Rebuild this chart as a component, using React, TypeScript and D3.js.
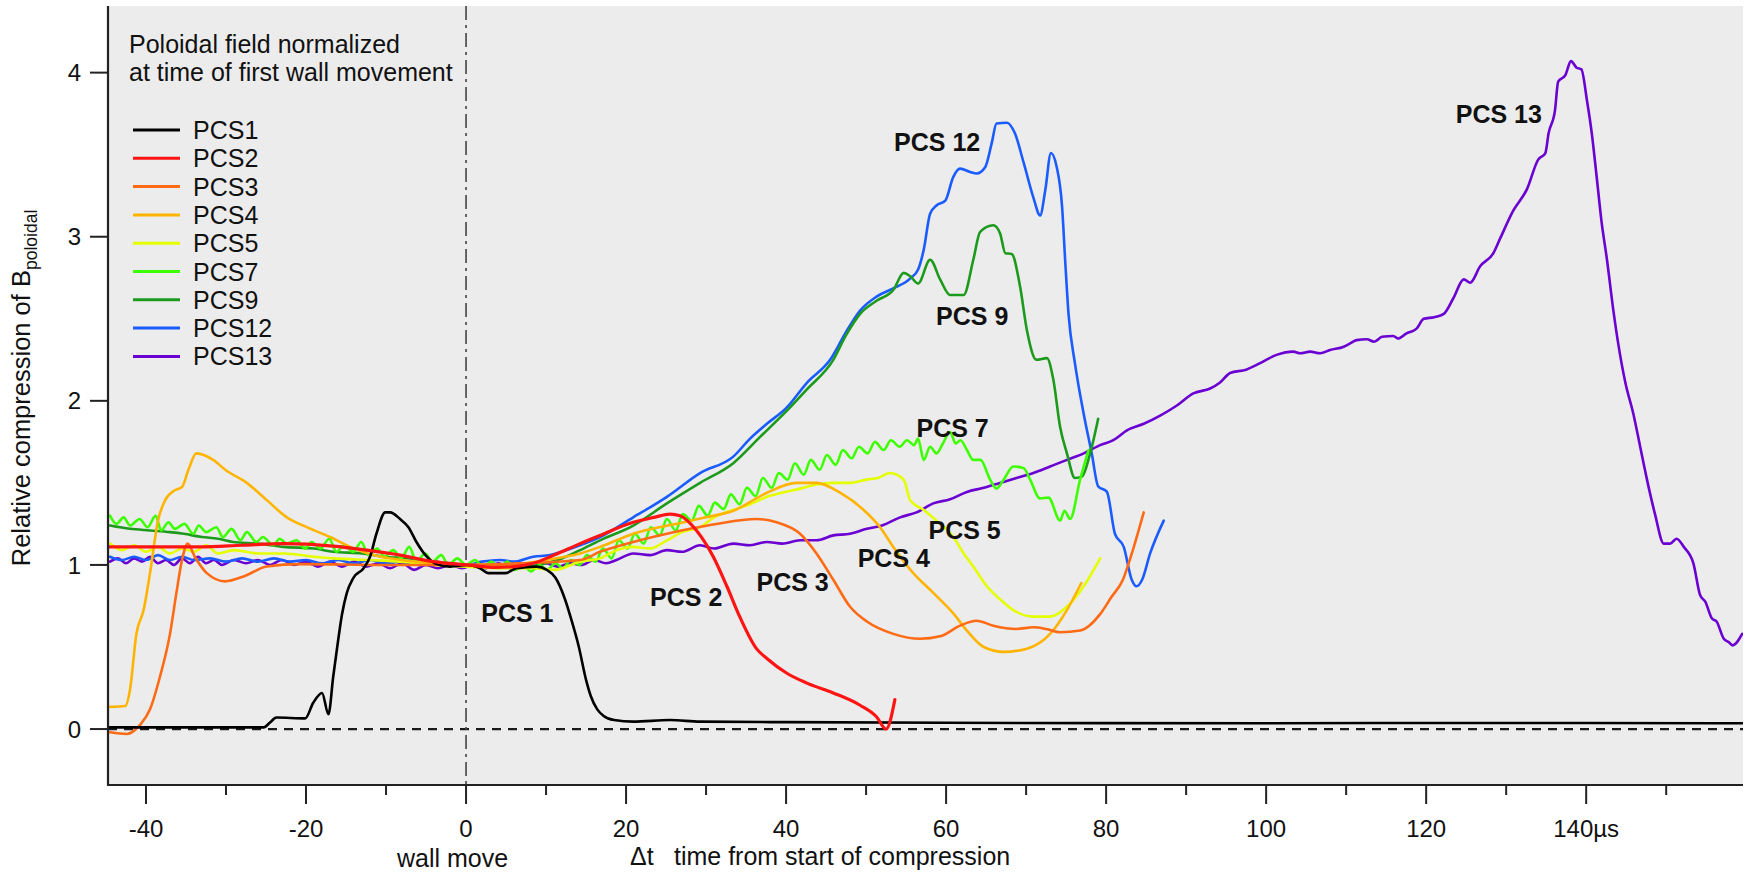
import React, { useEffect } from "react";
import * as d3 from "d3";

type P = [number, number];

// ---- data (x: µs from start of compression, y: relative compression) ----
const seriesNames = ["PCS1", "PCS2", "PCS3", "PCS4", "PCS5", "PCS7", "PCS9", "PCS12", "PCS13"];
const seriesColors = ["#000000", "#ff1414", "#ff6a14", "#ffb400", "#e4ff00", "#3cff00", "#1c9a1c", "#1a5cff", "#6a00d2"];
const xMajorTicks = [-40, -20, 0, 20, 40, 60, 80, 100, 120, 140];
const xMinorTicks = [-30, -10, 10, 30, 50, 70, 90, 110, 130, 150];
const xTickLabels = ["-40", "-20", "0", "20", "40", "60", "80", "100", "120", "140µs"];
const yTicks = [0, 1, 2, 3, 4];

const pcs1: P[] = [[-44.7,0.01],[-25.3,0.01],[-24.5,0.04],[-23.7,0.07],[-20.1,0.065],[-19.1,0.16],[-18.0,0.22],[-17.2,0.09],[-16.6,0.32],[-16.1,0.5],[-15.5,0.7],[-14.9,0.83],[-14.1,0.92],[-12.8,0.98],[-12.0,1.05],[-11.2,1.19],[-10.1,1.32],[-9.5,1.32],[-8.25,1.28],[-7.2,1.23],[-6.2,1.14],[-4.9,1.05],[-3.7,1.005],[-2.0,0.99],[0.1,1.0],[1.75,0.98],[2.8,0.95],[4.9,0.95],[6.3,0.98],[8.8,0.99],[10.1,0.97],[11.2,0.92],[12.3,0.8],[13.2,0.66],[14.1,0.5],[15.0,0.3],[15.6,0.2],[16.4,0.12],[17.2,0.08],[18.5,0.055],[20.9,0.045],[25.5,0.055],[29.25,0.045],[40,0.042],[60,0.038],[80,0.036],[100,0.035],[120,0.037],[140,0.037],[159.6,0.035]];
const pcs2: P[] = [[-44.7,1.11],[-38,1.11],[-33.25,1.11],[-28,1.12],[-22.8,1.13],[-16.6,1.115],[-12.4,1.09],[-8.25,1.06],[-4.1,1.02],[0.1,1.0],[3.8,0.985],[6,0.99],[8.4,1.01],[11,1.06],[14.25,1.13],[16.75,1.18],[20.9,1.26],[23.5,1.29],[25.5,1.31],[26.75,1.3],[28.8,1.21],[30.9,1.05],[32.6,0.87],[34.25,0.68],[36.3,0.49],[37.6,0.43],[40.1,0.34],[42.6,0.28],[45.9,0.22],[49.25,0.145],[51.3,0.075],[52.5,0.0],[53.6,0.18]];
const pcs3: P[] = [[-44.5,-0.02],[-42.4,-0.03],[-40.75,0.025],[-39.5,0.12],[-38.25,0.32],[-37,0.58],[-36.2,0.83],[-35.5,1.03],[-34.8,1.13],[-33.9,1.05],[-32.4,0.95],[-30.1,0.9],[-27.8,0.93],[-24.9,0.99],[-20.75,1.005],[-10,1.0],[0,1.0],[7,1.01],[14.25,1.03],[16.75,1.08],[20.9,1.14],[25.1,1.19],[28,1.22],[31.3,1.25],[36.3,1.28],[38.8,1.26],[41.75,1.19],[43.8,1.07],[45.9,0.91],[48,0.745],[50.1,0.655],[53.4,0.58],[56.75,0.55],[59.25,0.565],[61.75,0.63],[63.8,0.66],[65.9,0.63],[68.8,0.61],[70.9,0.62],[72.5,0.61],[74.25,0.59],[76.75,0.6],[79.25,0.7],[80.6,0.8],[82.1,0.91],[83.4,1.1],[84.7,1.32]];
const pcs4: P[] = [[-44.5,0.135],[-42.6,0.14],[-42,0.24],[-41.2,0.58],[-40.3,0.725],[-39.5,0.95],[-38.5,1.27],[-37.6,1.395],[-36.4,1.455],[-35.5,1.475],[-34.7,1.58],[-33.7,1.68],[-31.6,1.64],[-30.1,1.58],[-27.4,1.5],[-24.9,1.395],[-22.4,1.29],[-19.9,1.23],[-17,1.17],[-14.5,1.11],[-11.6,1.06],[-8,1.03],[-4.1,1.01],[0,1.0],[5,1.0],[10,1.03],[14.25,1.07],[16.75,1.11],[20.9,1.19],[27.2,1.26],[30,1.29],[33.4,1.33],[37.6,1.44],[41.3,1.5],[43.8,1.5],[46.75,1.44],[49.7,1.335],[51.75,1.23],[53.4,1.11],[55.9,0.95],[58.4,0.83],[60.9,0.705],[62.6,0.6],[64.7,0.5],[67.2,0.47],[70.1,0.49],[73,0.58],[75.1,0.725],[76.9,0.89]];
const pcs5: P[] = [[-44.5,1.13],[-43,1.09],[-41.5,1.12],[-40,1.08],[-38.5,1.11],[-37,1.07],[-35.5,1.1],[-34,1.08],[-32.5,1.12],[-31,1.07],[-29,1.09],[-26,1.07],[-22.8,1.07],[-19,1.05],[-16.6,1.04],[-12,1.03],[-8.25,1.02],[-4,1.0],[0,0.99],[4.25,0.98],[8.4,0.98],[11,0.97],[14.25,1.02],[16.75,1.04],[18.8,1.09],[20.9,1.11],[23,1.1],[25.1,1.15],[27,1.2],[29.25,1.23],[31,1.29],[33.4,1.335],[35.5,1.37],[37.6,1.415],[39.5,1.44],[41.75,1.465],[43.8,1.49],[45.9,1.5],[48,1.5],[50.1,1.52],[51.5,1.53],[53,1.56],[54.7,1.52],[55.5,1.395],[57.2,1.335],[58.8,1.27],[60.9,1.17],[62.2,1.07],[63.4,0.99],[65.1,0.87],[66.75,0.79],[68.4,0.725],[70.9,0.685],[73,0.685],[75.1,0.745],[77.2,0.87],[79.25,1.04]];
const pcs7: P[] = [[-44.5,1.3],[-43.7,1.25],[-42.8,1.29],[-42,1.24],[-40.8,1.28],[-39.8,1.23],[-38.8,1.3],[-38.1,1.21],[-37.2,1.26],[-36.4,1.22],[-35.2,1.25],[-34.1,1.19],[-33.4,1.24],[-32.5,1.2],[-31.2,1.23],[-30.4,1.17],[-29.3,1.22],[-28.2,1.15],[-27.4,1.2],[-26.2,1.14],[-25.4,1.17],[-24.1,1.12],[-23.3,1.16],[-22.4,1.13],[-21.2,1.15],[-20.1,1.1],[-19.3,1.14],[-18.2,1.1],[-17.1,1.16],[-16.2,1.08],[-15.2,1.12],[-14.1,1.08],[-13.1,1.14],[-12.2,1.06],[-11.1,1.1],[-10.2,1.05],[-9.1,1.09],[-8.1,1.04],[-7.1,1.11],[-6.2,1.02],[-5.1,1.07],[-4.2,1.02],[-3.1,1.06],[-2.2,1.0],[-1.1,1.04],[0,1.0],[1.1,1.03],[2.1,0.99],[3.2,1.02],[4.1,0.98],[5.2,1.02],[6.1,0.97],[7.2,1.0],[8.1,0.96],[9.2,1.0],[10.1,0.97],[11.2,1.01],[12.1,0.98],[13.1,1.03],[14.2,1.0],[15.1,1.06],[16.2,1.02],[17.1,1.1],[18.2,1.04],[19.1,1.15],[20.2,1.1],[21.1,1.19],[22.2,1.13],[23.1,1.23],[24.2,1.18],[25.1,1.28],[26.2,1.21],[27.1,1.31],[28.2,1.27],[29.1,1.36],[30.2,1.3],[31.1,1.38],[32.2,1.34],[33.1,1.43],[34.2,1.37],[35.1,1.47],[36.2,1.42],[37.1,1.53],[38.2,1.47],[39.1,1.56],[40.2,1.52],[41.1,1.62],[42.2,1.55],[43.1,1.64],[44.2,1.58],[45.1,1.67],[46.2,1.61],[47.1,1.7],[48.2,1.65],[49.1,1.72],[50.2,1.68],[51.1,1.75],[52.2,1.7],[53.1,1.76],[54.2,1.72],[55.1,1.76],[56,1.73],[56.5,1.77],[57.2,1.64],[58,1.72],[58.8,1.68],[59.6,1.74],[60.5,1.81],[61.2,1.74],[61.8,1.76],[62.6,1.7],[63.4,1.64],[64.3,1.64],[65.5,1.52],[66.3,1.465],[67.2,1.52],[68.4,1.6],[69.7,1.59],[70.5,1.52],[71.75,1.405],[72.8,1.41],[74.25,1.27],[74.8,1.33],[75.5,1.28],[76.75,1.52],[77.8,1.7]];
const pcs9: P[] = [[-44.5,1.24],[-42,1.22],[-39.5,1.21],[-37,1.2],[-35.3,1.19],[-33,1.17],[-31,1.16],[-29.1,1.14],[-26,1.13],[-22.8,1.11],[-19,1.1],[-16.6,1.08],[-13,1.07],[-10.3,1.05],[-7,1.04],[-4.1,1.02],[0,1.0],[3,0.99],[6.3,0.98],[9,1.0],[11.5,1.03],[14.25,1.09],[16.75,1.15],[20.9,1.24],[25.1,1.375],[29.25,1.5],[33.4,1.62],[36.75,1.78],[39.7,1.92],[42.6,2.07],[45.9,2.25],[47.5,2.4],[49.25,2.53],[51.3,2.61],[53.4,2.675],[54.7,2.78],[55.5,2.76],[56.5,2.715],[58,2.86],[59.25,2.74],[60.5,2.645],[62.2,2.645],[63.4,2.86],[64.25,3.03],[65.9,3.07],[66.75,3.02],[67.4,2.9],[68.2,2.895],[69.25,2.695],[70.1,2.43],[71.3,2.25],[72.6,2.26],[73.4,2.13],[74.25,1.84],[75.1,1.68],[76.1,1.53],[77,1.54],[78,1.68],[79,1.89]];
const pcs12: P[] = [[-44.5,1.05],[-43,1.03],[-41.5,1.05],[-40,1.03],[-38.5,1.06],[-37,1.03],[-35.5,1.05],[-34,1.03],[-32,1.04],[-30,1.02],[-28,1.04],[-26,1.02],[-24,1.04],[-22,1.02],[-20,1.03],[-18,1.01],[-16,1.03],[-14,1.01],[-12,1.03],[-10,1.01],[-8,1.02],[-6,1.0],[-4,1.02],[-2,1.0],[0,1.0],[2,1.02],[4.25,1.03],[6,1.02],[8.4,1.05],[10.5,1.06],[12.5,1.09],[14.25,1.12],[16.75,1.17],[20.9,1.29],[25.1,1.415],[29.25,1.56],[33.4,1.66],[35.5,1.77],[37.6,1.86],[40.1,1.96],[42.6,2.11],[45.5,2.25],[47.5,2.42],[49.25,2.55],[51.3,2.635],[53.4,2.685],[55.5,2.745],[56.5,2.8],[57.2,2.92],[58,3.14],[58.8,3.19],[59.9,3.22],[60.9,3.365],[61.75,3.415],[63,3.395],[63.8,3.385],[64.9,3.425],[65.7,3.57],[66.3,3.69],[67.6,3.695],[68.6,3.63],[69.7,3.45],[70.9,3.24],[71.75,3.13],[72.4,3.285],[73.1,3.51],[73.8,3.43],[74.5,3.18],[74.9,2.84],[75.3,2.53],[76.1,2.23],[77.2,1.92],[78.2,1.68],[79,1.48],[80.1,1.445],[81.1,1.19],[82.2,1.11],[83.2,0.91],[83.8,0.87],[84.5,0.91],[85.5,1.07],[87.2,1.27]];
const pcs13: P[] = [[-44.5,1.02],[-43.5,1.04],[-42.5,1.01],[-41.5,1.04],[-40.5,1.02],[-39.5,1.05],[-38.5,1.01],[-37.5,1.03],[-36.5,1.0],[-35.5,1.04],[-34.5,1.01],[-33.5,1.05],[-32.5,1.01],[-31.5,1.03],[-30.5,1.0],[-29,1.03],[-27.5,1.01],[-26,1.03],[-24.5,1.0],[-23,1.03],[-21.5,1.0],[-20,1.02],[-18.5,0.99],[-17,1.02],[-15.5,0.99],[-14,1.02],[-12.5,0.99],[-11,1.01],[-9.5,0.98],[-8,1.01],[-6.5,0.97],[-5,1.0],[-3.5,0.98],[-2,1.0],[-0.5,0.98],[1,1.0],[2.5,0.98],[4,1.01],[5.5,0.99],[7,1.01],[8.5,0.99],[10,1.01],[11.5,0.99],[13,1.01],[14.5,1.0],[16,1.03],[17.5,1.01],[18.8,1.03],[20.9,1.07],[23,1.06],[25.1,1.09],[27,1.08],[29.25,1.12],[31,1.1],[33.4,1.13],[35.5,1.12],[37.6,1.14],[39.5,1.13],[41.75,1.15],[43.8,1.15],[45.9,1.18],[48,1.19],[50.1,1.22],[52,1.24],[54.25,1.29],[56.3,1.32],[58.4,1.375],[60.5,1.4],[62.6,1.445],[64.7,1.47],[66.75,1.5],[68.8,1.53],[70.9,1.56],[73,1.6],[75.1,1.64],[77.2,1.68],[79.25,1.73],[80.9,1.76],[82.6,1.82],[84.7,1.86],[86.75,1.91],[88.8,1.97],[90.9,2.045],[93,2.075],[94.2,2.11],[95.5,2.17],[97.5,2.19],[99.25,2.23],[101.3,2.28],[103.4,2.3],[104.25,2.29],[105.5,2.3],[106.75,2.29],[108,2.31],[109.7,2.33],[110.5,2.35],[111.3,2.37],[112.6,2.375],[113.5,2.36],[114.5,2.39],[115.9,2.395],[116.5,2.38],[117.5,2.41],[118.8,2.44],[119.7,2.5],[121,2.51],[122.2,2.53],[123.4,2.625],[124.7,2.74],[125.5,2.72],[126.75,2.82],[128.4,2.9],[129.25,2.99],[130.9,3.16],[132.6,3.29],[134,3.47],[134.9,3.51],[135.3,3.63],[136.1,3.77],[136.5,3.945],[137.4,3.985],[138.1,4.07],[138.8,4.03],[139.4,4.02],[140.1,3.83],[140.7,3.63],[141.3,3.37],[141.9,3.1],[142.6,2.86],[143.4,2.55],[144,2.35],[144.9,2.11],[145.9,1.92],[146.75,1.72],[147.6,1.52],[148.6,1.31],[149.7,1.13],[150.5,1.13],[151.3,1.16],[152.2,1.11],[153.4,1.01],[154.25,0.815],[154.9,0.775],[155.7,0.675],[156.3,0.655],[157.2,0.55],[157.8,0.53],[158.3,0.51],[159.5,0.58]];

const seriesData: P[][] = [pcs1, pcs2, pcs3, pcs4, pcs5, pcs7, pcs9, pcs12, pcs13];

// curve labels (anchored at left / baseline)
const labelTexts = ["PCS 1", "PCS 2", "PCS 3", "PCS 4", "PCS 5", "PCS 7", "PCS 9", "PCS 12", "PCS 13"];
const labelX = [1.9, 23.0, 36.3, 48.95, 57.8, 56.3, 58.75, 53.5, 123.7];
const labelY = [0.655, 0.75, 0.84, 0.99, 1.16, 1.779, 2.462, 3.525, 3.695];

const W = 1748;
const H = 880;
const FONT = "'Liberation Sans', Arial, Helvetica, sans-serif";

export default function App() {
  useEffect(() => {
    document.body.style.margin = "0";
  }, []);

  const x = d3.scaleLinear().domain([-44.75, 159.6]).range([108, 1743]);
  const y = d3.scaleLinear().domain([-0.341, 4.406]).range([785, 6]);
  const [x0, x1] = x.range();
  const [yb, yt] = y.range();

  const line = d3
    .line<P>()
    .x((d) => x(d[0]))
    .y((d) => y(d[1]))
    .curve(d3.curveMonotoneX);

  const drawOrder = [8, 7, 6, 5, 4, 3, 2, 0, 1];

  return (
    <svg
      width={W}
      height={H}
      viewBox={`0 0 ${W} ${H}`}
      style={{ display: "block", position: "absolute", left: 0, top: 0, background: "#fff" }}
      fontFamily={FONT}
    >
      <defs>
        <clipPath id="plotClip">
          <rect x={x0} y={yt} width={x1 - x0} height={yb - yt} />
        </clipPath>
      </defs>
      <rect x={x0} y={yt} width={x1 - x0} height={yb - yt} fill="#ececec" />

      {/* zero reference and wall-move line */}
      <line x1={x0} x2={x1} y1={y(0)} y2={y(0)} stroke="#1a1a1a" strokeWidth={2.2} strokeDasharray="9,7" />
      <line x1={x(0)} x2={x(0)} y1={yt} y2={yb} stroke="#444" strokeWidth={1.6} strokeDasharray="14,5,3,5" />

      {/* series */}
      <g clipPath="url(#plotClip)">
        {drawOrder.map((i) => (
          <path
            key={seriesNames[i]}
            d={line(seriesData[i]) || ""}
            fill="none"
            stroke={seriesColors[i]}
            strokeWidth={i === 1 ? 3.2 : 2.6}
            strokeLinejoin="round"
            strokeLinecap="round"
          />
        ))}
      </g>

      {/* axes */}
      <line x1={x0} x2={x0} y1={yt} y2={yb + 1} stroke="#222" strokeWidth={2.2} />
      <line x1={x0 - 1} x2={x1} y1={yb} y2={yb} stroke="#222" strokeWidth={2.2} />
      {xMajorTicks.map((t, i) => (
        <g key={"xm" + t}>
          <line x1={x(t)} x2={x(t)} y1={yb} y2={yb + 19} stroke="#222" strokeWidth={2} />
          <text x={x(t)} y={837} fontSize={24} textAnchor="middle" fill="#111">
            {xTickLabels[i]}
          </text>
        </g>
      ))}
      {xMinorTicks.map((t) => (
        <line key={"xn" + t} x1={x(t)} x2={x(t)} y1={yb} y2={yb + 10} stroke="#222" strokeWidth={2} />
      ))}
      {yTicks.map((t) => (
        <g key={"y" + t}>
          <line x1={x0 - 18} x2={x0} y1={y(t)} y2={y(t)} stroke="#222" strokeWidth={2} />
          <text x={81} y={y(t)} dy="0.36em" fontSize={24} textAnchor="end" fill="#111">
            {t}
          </text>
        </g>
      ))}

      {/* axis titles */}
      <text transform="translate(30,388) rotate(-90)" fontSize={25.5} textAnchor="middle" fill="#111">
        Relative compression of B
        <tspan fontSize={17.5} dy={7}>poloidal</tspan>
      </text>
      <text x={452.5} y={867} fontSize={25} textAnchor="middle" fill="#111">wall move</text>
      <text x={630} y={865} fontSize={25} fill="#111">Δt</text>
      <text x={674} y={865} fontSize={25} fill="#111">time from start of compression</text>

      {/* legend */}
      <text x={129} y={53} fontSize={25} fill="#111">Poloidal field normalized</text>
      <text x={129} y={81} fontSize={25} fill="#111">at time of first wall movement</text>
      {seriesNames.map((n, i) => {
        const cy = 130 + i * 28.3;
        return (
          <g key={"lg" + n}>
            <line x1={133} x2={180} y1={cy} y2={cy} stroke={seriesColors[i]} strokeWidth={3} />
            <text x={193} y={cy + 9} fontSize={25} fill="#111">{n}</text>
          </g>
        );
      })}

      {/* curve labels */}
      {labelTexts.map((t, i) => (
        <text key={"lb" + t} x={x(labelX[i])} y={y(labelY[i])} fontSize={25} fontWeight="bold" fill="#111">
          {t}
        </text>
      ))}
    </svg>
  );
}
